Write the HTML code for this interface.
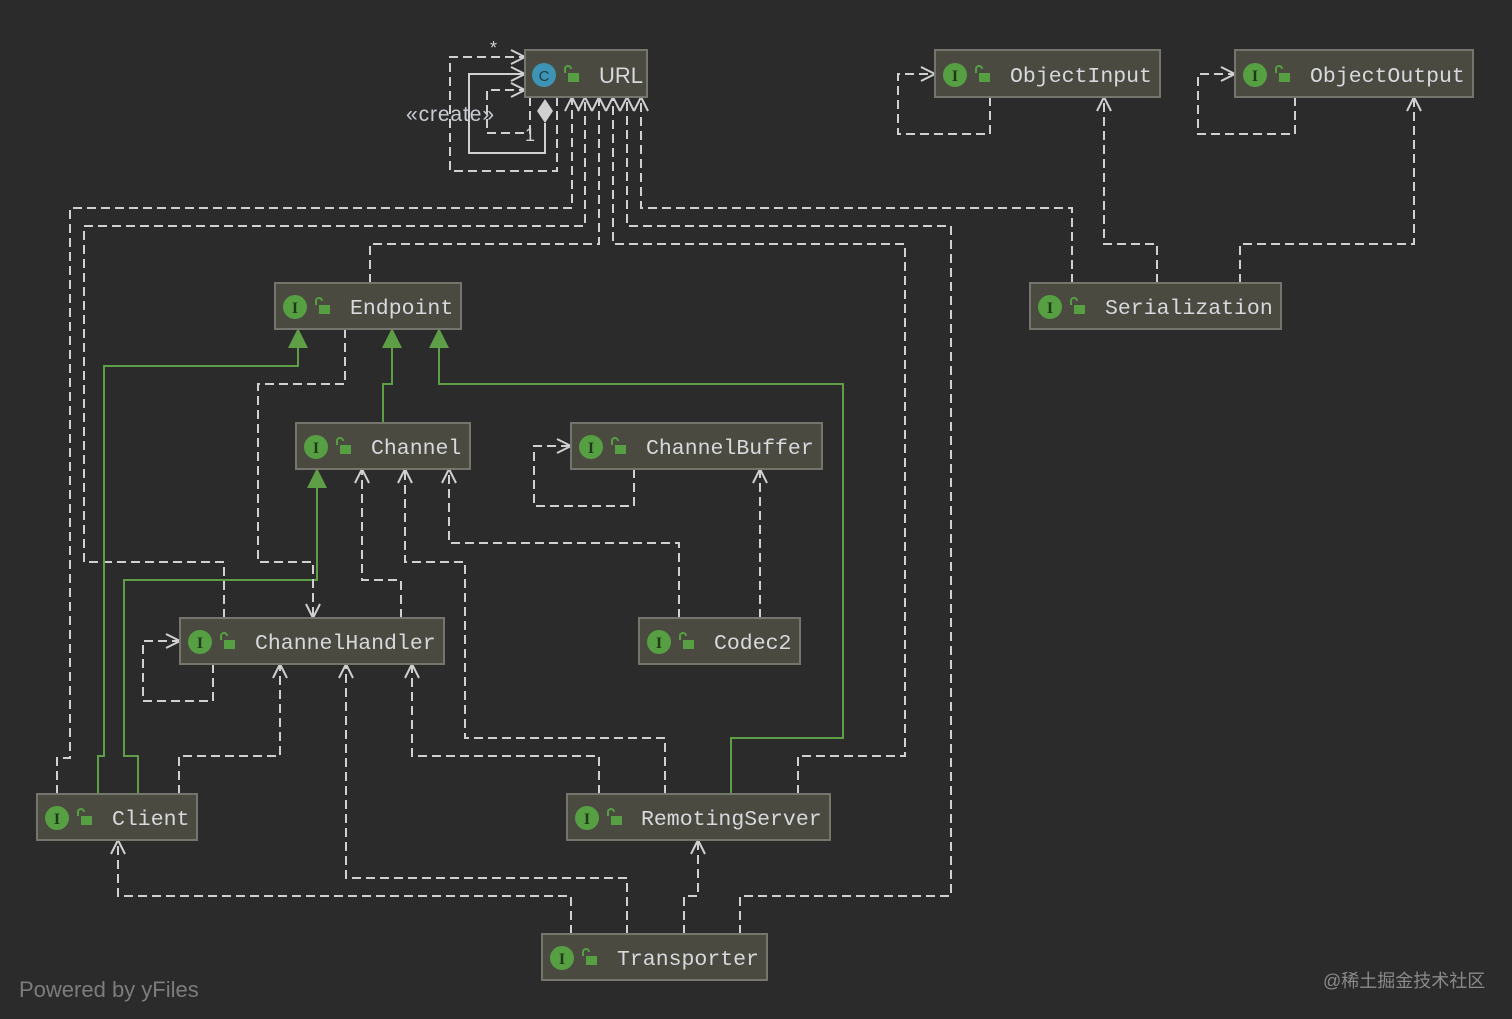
<!DOCTYPE html>
<html><head><meta charset="utf-8"><style>
html,body{margin:0;padding:0;background:#2b2b2b;width:1512px;height:1019px;overflow:hidden}
svg{display:block}
.n{fill:#4a4a40;stroke:#75756d;stroke-width:2}
.t{font-family:"Liberation Mono","DejaVu Sans Mono",monospace;font-size:21.5px;fill:#d7d9dd}
.d{fill:none;stroke:#d0d0d0;stroke-width:2;stroke-dasharray:9,5}
.s{fill:none;stroke:#d0d0d0;stroke-width:2}
.g{fill:none;stroke:#5e9e47;stroke-width:2}
.ic{fill:#56a043}
.il{font-family:"Liberation Serif",serif;font-size:16px;fill:#1f3a18;font-weight:bold}
</style></head><body>
<svg width="1512" height="1019" viewBox="0 0 1512 1019">
<defs>
<marker id="o" viewBox="0 0 16 16" refX="15" refY="8" markerWidth="16" markerHeight="16" markerUnits="userSpaceOnUse" orient="auto"><path d="M1,1 L15,8 L1,15" fill="none" stroke="#d0d0d0" stroke-width="2"/></marker>
<marker id="f" viewBox="0 0 20 20" refX="19" refY="10" markerWidth="20" markerHeight="20" markerUnits="userSpaceOnUse" orient="auto"><path d="M0,0 L20,10 L0,20 Z" fill="#5e9e47"/></marker>
</defs>
<polyline class="d" points="557,97 557,171 450,171 450,57 525,57" marker-end="url(#o)"/>
<polyline class="s" points="545,123 545,153 469,153 469,74 525,74" marker-end="url(#o)"/>
<polygon points="545,99 553,111 545,123 537,111" fill="#d0d0d0"/>
<polyline class="d" points="530,97 530,133 487,133 487,90 525,90" marker-end="url(#o)"/>
<text x="490" y="54" font-family="Liberation Sans,sans-serif" font-size="18" fill="#d0d0d0">*</text>
<text x="525" y="141" font-family="Liberation Sans,sans-serif" font-size="18" fill="#d0d0d0">1</text>
<text x="406" y="121" font-family="Liberation Sans,sans-serif" font-size="21" fill="#c8ccd2" textLength="88">«create»</text>
<polyline class="d" points="57,794 57,758 70,758 70,208 572,208 572,97" marker-end="url(#o)"/>
<polyline class="d" points="224,618 224,562 84,562 84,226 585,226 585,97" marker-end="url(#o)"/>
<polyline class="d" points="370,283 370,244 599,244 599,97" marker-end="url(#o)"/>
<polyline class="d" points="798,794 798,756 905,756 905,244 613,244 613,97" marker-end="url(#o)"/>
<polyline class="d" points="740,934 740,896 951,896 951,226 627,226 627,97" marker-end="url(#o)"/>
<polyline class="d" points="1072,283 1072,208 641,208 641,97" marker-end="url(#o)"/>
<polyline class="d" points="990,97 990,134 898,134 898,74 935,74" marker-end="url(#o)"/>
<polyline class="d" points="1295,97 1295,134 1198,134 1198,74 1235,74" marker-end="url(#o)"/>
<polyline class="d" points="1157,283 1157,244 1104,244 1104,97" marker-end="url(#o)"/>
<polyline class="d" points="1240,283 1240,244 1414,244 1414,97" marker-end="url(#o)"/>
<polyline class="g" points="98,794 98,756 104,756 104,366 298,366 298,329" marker-end="url(#f)"/>
<polyline class="g" points="383,423 383,384 392,384 392,329" marker-end="url(#f)"/>
<polyline class="g" points="731,794 731,738 843,738 843,384 439,384 439,329" marker-end="url(#f)"/>
<polyline class="g" points="138,794 138,756 124,756 124,580 317,580 317,469" marker-end="url(#f)"/>
<polyline class="d" points="345,329 345,384 258,384 258,562 313,562 313,618" marker-end="url(#o)"/>
<polyline class="d" points="401,618 401,580 362,580 362,469" marker-end="url(#o)"/>
<polyline class="d" points="665,794 665,738 465,738 465,562 405,562 405,469" marker-end="url(#o)"/>
<polyline class="d" points="679,618 679,543 449,543 449,469" marker-end="url(#o)"/>
<polyline class="d" points="634,469 634,506 534,506 534,446 571,446" marker-end="url(#o)"/>
<polyline class="d" points="760,618 760,469" marker-end="url(#o)"/>
<polyline class="d" points="213,664 213,701 143,701 143,641 180,641" marker-end="url(#o)"/>
<polyline class="d" points="179,794 179,756 280,756 280,664" marker-end="url(#o)"/>
<polyline class="d" points="627,934 627,878 346,878 346,664" marker-end="url(#o)"/>
<polyline class="d" points="599,794 599,756 412,756 412,664" marker-end="url(#o)"/>
<polyline class="d" points="571,934 571,896 118,896 118,840" marker-end="url(#o)"/>
<polyline class="d" points="684,934 684,896 698,896 698,840" marker-end="url(#o)"/>

<rect class="n" x="525" y="50" width="122" height="47"/>
<circle cx="544" cy="75" r="12" fill="#3e94b5"/><text x="544" y="81" text-anchor="middle" font-family="Liberation Sans,sans-serif" font-size="15" fill="#1c3c4a">C</text>
<rect x="568" y="73" width="11" height="9" fill="#56a043"/><path d="M565,73 v-4 a3,3 0 0 1 6,0" fill="none" stroke="#56a043" stroke-width="2"/>
<text x="599" y="83" font-family="Liberation Sans,sans-serif" font-size="22" fill="#d7d9dd">URL</text>
<g>
<rect class="n" x="935" y="50" width="225" height="47"/><circle class="ic" cx="955" cy="75" r="12"/><text class="il" x="955" y="81" text-anchor="middle">I</text><rect x="979" y="73" width="11" height="9" fill="#56a043"/><path d="M976,73 v-4 a3,3 0 0 1 6,0" fill="none" stroke="#56a043" stroke-width="2"/><text class="t" x="1010" y="82">ObjectInput</text>

<rect class="n" x="1235" y="50" width="238" height="47"/><circle class="ic" cx="1255" cy="75" r="12"/><text class="il" x="1255" y="81" text-anchor="middle">I</text><rect x="1279" y="73" width="11" height="9" fill="#56a043"/><path d="M1276,73 v-4 a3,3 0 0 1 6,0" fill="none" stroke="#56a043" stroke-width="2"/><text class="t" x="1310" y="82">ObjectOutput</text>

<rect class="n" x="275" y="283" width="186" height="46"/><circle class="ic" cx="295" cy="307" r="12"/><text class="il" x="295" y="313" text-anchor="middle">I</text><rect x="319" y="305" width="11" height="9" fill="#56a043"/><path d="M316,305 v-4 a3,3 0 0 1 6,0" fill="none" stroke="#56a043" stroke-width="2"/><text class="t" x="350" y="314">Endpoint</text>

<rect class="n" x="1030" y="283" width="251" height="46"/><circle class="ic" cx="1050" cy="307" r="12"/><text class="il" x="1050" y="313" text-anchor="middle">I</text><rect x="1074" y="305" width="11" height="9" fill="#56a043"/><path d="M1071,305 v-4 a3,3 0 0 1 6,0" fill="none" stroke="#56a043" stroke-width="2"/><text class="t" x="1105" y="314">Serialization</text>

<rect class="n" x="296" y="423" width="174" height="46"/><circle class="ic" cx="316" cy="447" r="12"/><text class="il" x="316" y="453" text-anchor="middle">I</text><rect x="340" y="445" width="11" height="9" fill="#56a043"/><path d="M337,445 v-4 a3,3 0 0 1 6,0" fill="none" stroke="#56a043" stroke-width="2"/><text class="t" x="371" y="454">Channel</text>

<rect class="n" x="571" y="423" width="251" height="46"/><circle class="ic" cx="591" cy="447" r="12"/><text class="il" x="591" y="453" text-anchor="middle">I</text><rect x="615" y="445" width="11" height="9" fill="#56a043"/><path d="M612,445 v-4 a3,3 0 0 1 6,0" fill="none" stroke="#56a043" stroke-width="2"/><text class="t" x="646" y="454">ChannelBuffer</text>

<rect class="n" x="180" y="618" width="264" height="46"/><circle class="ic" cx="200" cy="642" r="12"/><text class="il" x="200" y="648" text-anchor="middle">I</text><rect x="224" y="640" width="11" height="9" fill="#56a043"/><path d="M221,640 v-4 a3,3 0 0 1 6,0" fill="none" stroke="#56a043" stroke-width="2"/><text class="t" x="255" y="649">ChannelHandler</text>

<rect class="n" x="639" y="618" width="161" height="46"/><circle class="ic" cx="659" cy="642" r="12"/><text class="il" x="659" y="648" text-anchor="middle">I</text><rect x="683" y="640" width="11" height="9" fill="#56a043"/><path d="M680,640 v-4 a3,3 0 0 1 6,0" fill="none" stroke="#56a043" stroke-width="2"/><text class="t" x="714" y="649">Codec2</text>

<rect class="n" x="37" y="794" width="160" height="46"/><circle class="ic" cx="57" cy="818" r="12"/><text class="il" x="57" y="824" text-anchor="middle">I</text><rect x="81" y="816" width="11" height="9" fill="#56a043"/><path d="M78,816 v-4 a3,3 0 0 1 6,0" fill="none" stroke="#56a043" stroke-width="2"/><text class="t" x="112" y="825">Client</text>

<rect class="n" x="567" y="794" width="263" height="46"/><circle class="ic" cx="587" cy="818" r="12"/><text class="il" x="587" y="824" text-anchor="middle">I</text><rect x="611" y="816" width="11" height="9" fill="#56a043"/><path d="M608,816 v-4 a3,3 0 0 1 6,0" fill="none" stroke="#56a043" stroke-width="2"/><text class="t" x="641" y="825">RemotingServer</text>

<rect class="n" x="542" y="934" width="225" height="46"/><circle class="ic" cx="562" cy="958" r="12"/><text class="il" x="562" y="964" text-anchor="middle">I</text><rect x="586" y="956" width="11" height="9" fill="#56a043"/><path d="M583,956 v-4 a3,3 0 0 1 6,0" fill="none" stroke="#56a043" stroke-width="2"/><text class="t" x="617" y="965">Transporter</text>
</g>
<text x="19" y="997" font-family="Liberation Sans,sans-serif" font-size="22" fill="#7c7c7c">Powered by yFiles</text>
<text x="1323" y="987" font-family="Liberation Sans,'Noto Sans CJK SC',sans-serif" font-size="18" fill="#8a8a8a">@稀土掘金技术社区</text>
</svg>
</body></html>
